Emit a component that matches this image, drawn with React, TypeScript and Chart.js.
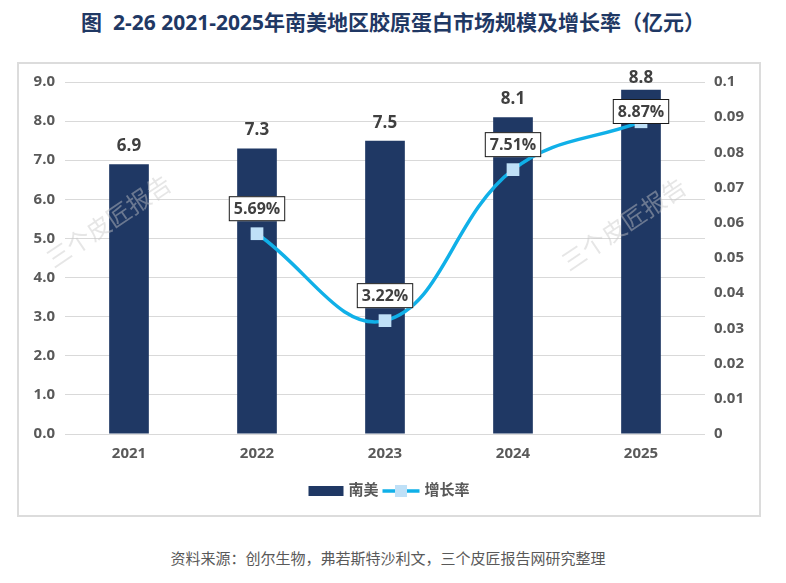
import { useEffect, useRef } from 'react';
import { Chart, registerables } from 'chart.js';

Chart.register(...registerables);

const years = ['2021', '2022', '2023', '2024', '2025'];
const marketSize = [6.9, 7.3, 7.5, 8.1, 8.8];
const growthRate = [null, 0.0569, 0.0322, 0.0751, 0.0887];

const FONT = '"Open Sans", "Noto Sans CJK SC", sans-serif';
const BAR_COLOR = '#1f3864';
const LINE_COLOR = '#10b0e8';
const MARKER_COLOR = '#bfe0f7';
const TEXT_COLOR = '#595959';
const LABEL_COLOR = '#404040';

const labelPlugin = {
  id: 'labels',
  afterDatasetsDraw(chart: any) {
    const ctx = chart.ctx;
    const area = chart.chartArea;
    ctx.save();

    // bar values
    const barMeta = chart.getDatasetMeta(0);
    ctx.font = `bold 17px ${FONT}`;
    ctx.fillStyle = LABEL_COLOR;
    ctx.textAlign = 'center';
    ctx.textBaseline = 'alphabetic';
    barMeta.data.forEach((bar: any, i: number) => {
      const y = Math.max(bar.y - 13, area.top + 1);
      ctx.fillText(marketSize[i].toFixed(1), bar.x, y);
    });

    // growth rate boxes
    const lineMeta = chart.getDatasetMeta(1);
    ctx.font = `bold 16px ${FONT}`;
    ctx.textBaseline = 'middle';
    lineMeta.data.forEach((pt: any, i: number) => {
      const v = growthRate[i];
      if (v == null) return;
      const text = (v * 100).toFixed(2) + '%';
      const w = ctx.measureText(text).width + 10;
      const h = 25;
      let cy = pt.y - 25;
      if (cy - h / 2 < area.top + 17) cy = area.top + 17 + h / 2;
      ctx.fillStyle = '#ffffff';
      ctx.fillRect(pt.x - w / 2, cy - h / 2, w, h);
      ctx.strokeStyle = '#1a1a1a';
      ctx.lineWidth = 1;
      ctx.strokeRect(pt.x - w / 2 + 0.5, cy - h / 2 + 0.5, w - 1, h - 1);
      ctx.fillStyle = LABEL_COLOR;
      ctx.fillText(text, pt.x, cy + 1);
    });

    // watermarks
    ctx.font = `24px ${FONT}`;
    ctx.fillStyle = 'rgba(200,200,200,0.45)';
    ctx.textAlign = 'center';
    const marks = [
      [area.left + (area.right - area.left) * 0.07, area.top + 141],
      [area.left + (area.right - area.left) * 0.875, area.top + 144],
    ];
    marks.forEach(([x, y]) => {
      ctx.save();
      ctx.translate(x, y);
      ctx.rotate(-34 * Math.PI / 180);
      ctx.fillText('三个皮匠报告', 0, 0);
      ctx.restore();
    });

    // legend
    ctx.font = `bold 15px ${FONT}`;
    ctx.textBaseline = 'middle';
    ctx.textAlign = 'left';
    const names = chart.data.datasets.map((d: any) => d.label);
    const w0 = ctx.measureText(names[0]).width;
    const w1 = ctx.measureText(names[1]).width;
    const total = 35 + 5 + w0 + 4 + 37 + 5 + w1;
    let x = chart.width / 2 - total / 2;
    const ly = area.bottom + 57;
    ctx.fillStyle = BAR_COLOR;
    ctx.fillRect(x, ly - 5, 35, 10);
    x += 40;
    ctx.fillStyle = TEXT_COLOR;
    ctx.fillText(names[0], x, ly);
    x += w0 + 4;
    ctx.strokeStyle = LINE_COLOR;
    ctx.lineWidth = 3.5;
    ctx.beginPath();
    ctx.moveTo(x, ly);
    ctx.lineTo(x + 37, ly);
    ctx.stroke();
    ctx.fillStyle = MARKER_COLOR;
    ctx.fillRect(x + 18.5 - 6, ly - 6, 12, 12);
    x += 42;
    ctx.fillStyle = TEXT_COLOR;
    ctx.fillText(names[1], x, ly);

    ctx.restore();
  },
};

function ComboChart() {
  const canvasRef = useRef<HTMLCanvasElement>(null);

  useEffect(() => {
    const canvas = canvasRef.current;
    if (!canvas) return;
    const chart = new Chart(canvas, {
      type: 'bar',
      data: {
        labels: years,
        datasets: [
          {
            type: 'bar',
            label: '南美',
            data: marketSize,
            backgroundColor: BAR_COLOR,
            barPercentage: 0.31,
            categoryPercentage: 1,
            yAxisID: 'y',
            order: 2,
          },
          {
            type: 'line',
            label: '增长率',
            data: growthRate as any,
            borderColor: LINE_COLOR,
            borderWidth: 3.5,
            backgroundColor: MARKER_COLOR,
            pointStyle: 'rect',
            pointRadius: 9,
            pointBorderWidth: 0,
            pointBackgroundColor: MARKER_COLOR,
            tension: 0.4,
            yAxisID: 'y1',
            order: 1,
          },
        ],
      },
      options: {
        animation: false,
        responsive: true,
        maintainAspectRatio: false,
        layout: { padding: { top: 19, bottom: 0, left: 0, right: 0 } },
        plugins: {
          legend: { display: false },
          tooltip: { enabled: false },
        },
        scales: {
          x: {
            grid: { display: false },
            border: { display: false },
            ticks: { color: TEXT_COLOR, font: { family: FONT, size: 15, weight: 'bold' }, padding: 3 },
            afterFit(scale: any) { scale.height = 82; },
          },
          y: {
            position: 'left',
            min: 0,
            max: 9,
            ticks: {
              stepSize: 1,
              color: TEXT_COLOR,
              font: { family: FONT, size: 15, weight: 'bold' },
              padding: 10,
              callback: (v: any) => Number(v).toFixed(1),
            },
            grid: { color: '#d9d9d9', lineWidth: 1, drawTicks: false },
            border: { display: false },
            afterFit(scale: any) { scale.width = 47; },
          },
          y1: {
            position: 'right',
            min: 0,
            max: 0.1,
            ticks: {
              stepSize: 0.01,
              color: TEXT_COLOR,
              font: { family: FONT, size: 15, weight: 'bold' },
              padding: 9,
              callback: (v: any) => String(parseFloat(Number(v).toFixed(2))),
            },
            grid: { display: false, drawTicks: false },
            border: { display: false },
            afterFit(scale: any) { scale.width = 55; },
          },
        },
      },
      plugins: [labelPlugin],
    });
    return () => {
      chart.destroy();
    };
  }, []);

  return <canvas ref={canvasRef} />;
}

export default function App() {
  return (
    <div style={{ position: 'absolute', left: 0, top: 0, width: 786, height: 583, background: '#fff', fontFamily: FONT }}>
      <div style={{ position: 'absolute', top: 8, left: 0, width: 786, textAlign: 'center', fontSize: 21, fontWeight: 'bold', color: '#1f3864', lineHeight: '28px' }}>
        图&nbsp;&nbsp;2-26 2021-2025年南美地区胶原蛋白市场规模及增长率（亿元）
      </div>
      <div style={{ position: 'absolute', left: 18, top: 63, width: 742, height: 453 }}>
        <ComboChart />
      </div>
      <div style={{ position: 'absolute', left: 17, top: 62, width: 744, height: 455, boxSizing: 'border-box', border: '2px solid #dcdcdc', pointerEvents: 'none' }} />
      <div style={{ position: 'absolute', top: 547, left: 0, width: 776, textAlign: 'center', fontSize: 15, color: TEXT_COLOR, lineHeight: '22px' }}>
        资料来源：创尔生物，弗若斯特沙利文，三个皮匠报告网研究整理
      </div>
    </div>
  );
}
